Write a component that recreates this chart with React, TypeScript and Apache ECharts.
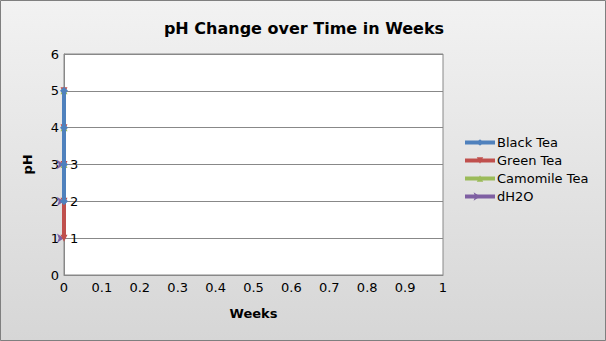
import React, { useEffect, useRef } from "react";
import * as echarts from "echarts";

const weeks = [0];
const blackTea = [2, 3, 4, 5];
const greenTea = [1, 2, 3, 4, 5];
const camomileTea = [3, 4, 5];
const dH2O = [1, 2, 3];
const xTicks = [0, 0.1, 0.2, 0.3, 0.4, 0.5, 0.6, 0.7, 0.8, 0.9, 1];

const FONT = "DejaVu Sans";

export default function App() {
  const ref = useRef<HTMLDivElement>(null);
  useEffect(() => {
    document.body.style.margin = "0";
    const chart = echarts.init(ref.current!, null, { renderer: "svg" });
    const pts = (vals: number[]) => vals.map((v) => [weeks[0], v]);
    chart.setOption({
      animation: false,
      backgroundColor: {
        type: "linear",
        x: 0,
        y: 0,
        x2: 0,
        y2: 1,
        colorStops: [
          { offset: 0, color: "#f2f2f2" },
          { offset: 1, color: "#d6d6d6" },
        ],
      },
      textStyle: { fontFamily: FONT },
      title: {
        text: "pH Change over Time in Weeks",
        left: 299,
        top: 15,
        textAlign: "center",
        textStyle: { fontFamily: FONT, fontSize: 16, fontWeight: "bold", color: "#000" },
      },
      grid: {
        left: 64,
        right: 163,
        top: 54,
        bottom: 66,
        show: true,
        backgroundColor: "#fff",
        borderColor: "#888",
        borderWidth: 1,
      },
      legend: {
        orient: "vertical",
        left: 458,
        top: 131,
        itemWidth: 30,
        itemHeight: 8,
        itemGap: 5,
        lineStyle: { width: 4 },
        data: ["Black Tea", "Green Tea", "Camomile Tea", "dH2O"],
        textStyle: { fontFamily: FONT, fontSize: 13, color: "#000", padding: [0, 0, 0, -3] },
      },
      xAxis: {
        type: "value",
        min: 0,
        max: 1,
        interval: 0.1,
        name: "Weeks",
        nameLocation: "middle",
        nameGap: 32,
        nameTextStyle: { fontFamily: FONT, fontSize: 13, fontWeight: "bold", color: "#000" },
        axisLine: { show: true, lineStyle: { color: "#888" } },
        axisTick: { show: false },
        splitLine: { show: false },
        axisLabel: {
          fontFamily: FONT,
          fontSize: 13,
          color: "#000",
          margin: 6,
          formatter: (v: number) => {
            const t = xTicks.find((x) => Math.abs(x - v) < 1e-6);
            return String(t ?? v);
          },
        },
      },
      yAxis: {
        type: "value",
        min: 0,
        max: 6,
        interval: 1,
        name: "pH",
        nameLocation: "middle",
        nameGap: 30,
        nameRotate: 90,
        nameTextStyle: { fontFamily: FONT, fontSize: 13, fontWeight: "bold", color: "#000" },
        axisLine: { show: true, lineStyle: { color: "#888" } },
        axisTick: { show: false },
        splitLine: { show: true, lineStyle: { color: "#888" } },
        axisLabel: { fontFamily: FONT, fontSize: 13, color: "#000", margin: 5 },
      },
      series: [
        {
          name: "dH2O",
          type: "line",
          z: 1,
          data: pts(dH2O),
          color: "#7e5fa2",
          lineStyle: { width: 4 },
          symbol: "arrow",
          symbolRotate: -90,
          symbolSize: 7,
          label: {
            show: true,
            position: "right",
            distance: 6,
            fontFamily: FONT,
            fontSize: 13,
            color: "#000",
            formatter: (p: any) => String(p.value[1]),
          },
        },
        {
          name: "Camomile Tea",
          type: "line",
          z: 2,
          data: pts(camomileTea),
          color: "#9bbb59",
          lineStyle: { width: 4 },
          symbol: "triangle",
          symbolSize: 7,
        },
        {
          name: "Green Tea",
          type: "line",
          z: 3,
          data: pts(greenTea),
          color: "#c0504d",
          lineStyle: { width: 4 },
          symbol: "triangle",
          symbolRotate: 180,
          symbolSize: 7,
        },
        {
          name: "Black Tea",
          type: "line",
          z: 4,
          data: pts(blackTea),
          color: "#4f81bd",
          lineStyle: { width: 4 },
          symbol: "diamond",
          symbolSize: 8,
        },
      ],
      graphic: [
        {
          type: "rect",
          shape: { x: 0.5, y: 0.5, width: 605, height: 340 },
          style: { fill: "none", stroke: "#7f7f7f", lineWidth: 1 },
          silent: true,
        },
      ],
    });
    return () => chart.dispose();
  }, []);
  return <div ref={ref} style={{ position: "absolute", left: 0, top: 0, width: 606, height: 341 }} />;
}
